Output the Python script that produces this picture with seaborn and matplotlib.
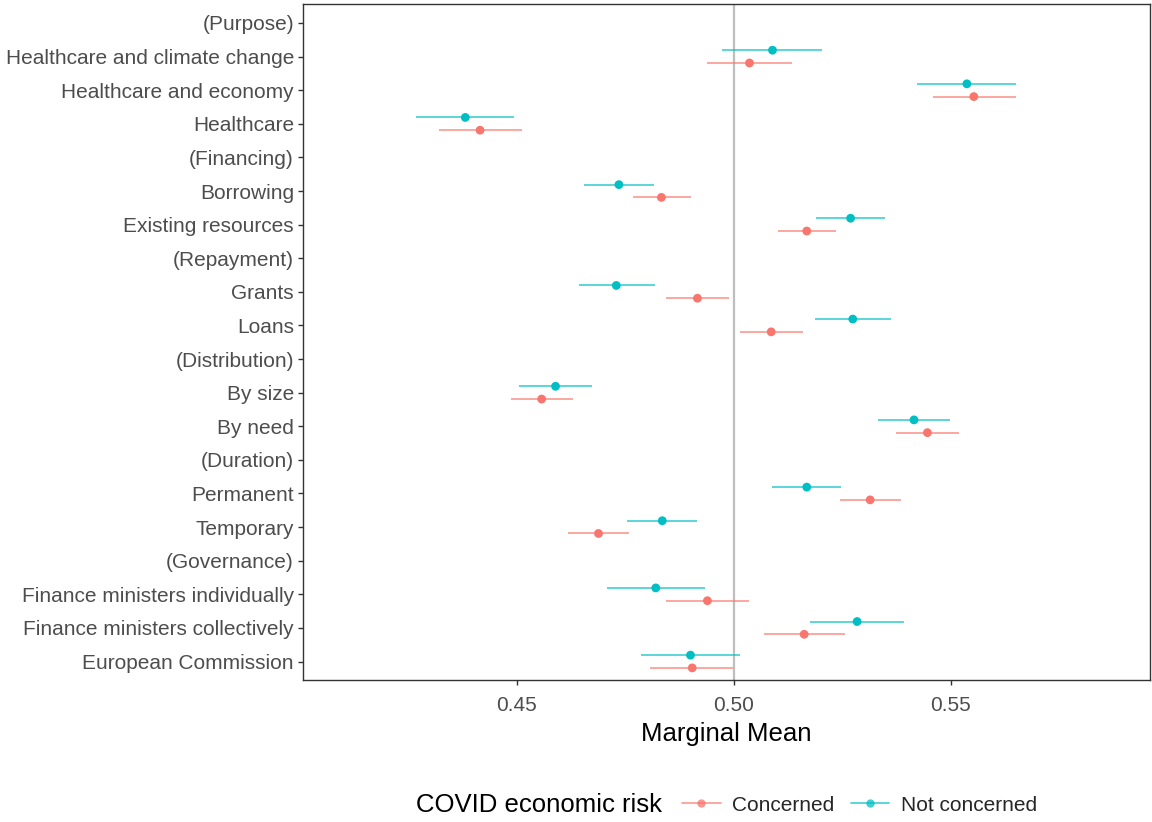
import numpy as np
import pandas as pd
import matplotlib
matplotlib.use("Agg")
import matplotlib.pyplot as plt
from matplotlib.lines import Line2D
import seaborn as sns

# Attribute levels, top to bottom; bracketed rows are attribute headers
levels = [
    "(Purpose)", "Healthcare and climate change", "Healthcare and economy", "Healthcare",
    "(Financing)", "Borrowing", "Existing resources",
    "(Repayment)", "Grants", "Loans",
    "(Distribution)", "By size", "By need",
    "(Duration)", "Permanent", "Temporary",
    "(Governance)", "Finance ministers individually", "Finance ministers collectively",
    "European Commission",
]

nan = np.nan
# Marginal means and 95% intervals: respondents concerned about COVID economic risk
concerned_est = [nan, 0.5036, 0.5553, 0.4415, nan, 0.4833, 0.5168, nan, 0.4916, 0.5086,
                 nan, 0.4557, 0.5446, nan, 0.5314, 0.4688, nan, 0.4939, 0.5162, 0.4904]
concerned_lo = [nan, 0.4939, 0.5458, 0.4320, nan, 0.4767, 0.5101, nan, 0.4843, 0.5014,
                nan, 0.4487, 0.5373, nan, 0.5244, 0.4618, nan, 0.4843, 0.5069, 0.4807]
concerned_hi = [nan, 0.5135, 0.5651, 0.4511, nan, 0.4902, 0.5235, nan, 0.4988, 0.5160,
                nan, 0.4630, 0.5519, nan, 0.5385, 0.4759, nan, 0.5034, 0.5256, 0.4998]

# Respondents not concerned
notconc_est = [nan, 0.5089, 0.5537, 0.4381, nan, 0.4735, 0.5269, nan, 0.4729, 0.5274,
               nan, 0.4589, 0.5415, nan, 0.5168, 0.4835, nan, 0.4820, 0.5284, 0.4900]
notconc_lo = [nan, 0.4973, 0.5423, 0.4268, nan, 0.4655, 0.5189, nan, 0.4642, 0.5187,
              nan, 0.4505, 0.5331, nan, 0.5088, 0.4753, nan, 0.4708, 0.5175, 0.4786]
notconc_hi = [nan, 0.5202, 0.5651, 0.4493, nan, 0.4815, 0.5348, nan, 0.4818, 0.5362,
              nan, 0.4673, 0.5499, nan, 0.5248, 0.4916, nan, 0.4933, 0.5392, 0.5013]

groups = ["Concerned", "Not concerned"]
palette = {"Concerned": "#F8766D", "Not concerned": "#00BFC4"}
dodge = {"Concerned": 0.19, "Not concerned": -0.19}

rows = []
for grp, est, lo, hi in [
    ("Concerned", concerned_est, concerned_lo, concerned_hi),
    ("Not concerned", notconc_est, notconc_lo, notconc_hi),
]:
    for i, lev in enumerate(levels):
        rows.append({"level": lev, "pos": i + dodge[grp], "group": grp,
                     "estimate": est[i], "lower": lo[i], "upper": hi[i]})
df = pd.DataFrame(rows).dropna()

sns.set_theme(style="white")
plt.rcParams["font.family"] = ["Liberation Sans", "DejaVu Sans"]

fig = plt.figure(figsize=(11.52, 8.22), dpi=100)
ax = fig.add_axes([303 / 1152, 1 - 680 / 822, (1150 - 303) / 1152, (680 - 4) / 822])

ax.axvline(0.5, color="#BEBEBE", linewidth=1.6, zorder=1)

for grp in groups:
    sub = df[df["group"] == grp]
    ax.hlines(sub["pos"], sub["lower"], sub["upper"], color=palette[grp],
              linewidth=1.2, alpha=0.75, zorder=2)

sns.scatterplot(data=df, x="estimate", y="pos", hue="group", hue_order=groups,
                palette=palette, s=40, linewidth=0, legend=False, ax=ax, zorder=3)

ax.set_xlim(0.4007, 0.5959)
ax.set_ylim(19.55, -0.565)
ax.set_yticks(range(len(levels)))
ax.set_yticklabels(levels)
ax.set_xticks([0.45, 0.50, 0.55])
ax.set_xticklabels(["0.45", "0.50", "0.55"])
ax.set_xlabel("Marginal Mean", fontsize=18.5, color="black", labelpad=5)
ax.set_ylabel("")

ax.tick_params(axis="both", which="major", length=3.5, width=1.0, color="#333333",
               labelsize=15, labelcolor="#4D4D4D", pad=3, left=True, bottom=True)
ax.tick_params(axis="x", pad=8)
for sp in ax.spines.values():
    sp.set_edgecolor("#333333")
    sp.set_linewidth(1.0)
ax.grid(False)

# Legend along the bottom with its title to the left
handles = [Line2D([0], [0], color=palette[g], linewidth=1.2, alpha=0.75,
                  marker="o", markersize=6, markerfacecolor=palette[g],
                  markeredgewidth=0) for g in groups]
ly = 1 - 805 / 822
fig.text(416 / 1152, ly, "COVID economic risk", fontsize=18.5, color="black",
         ha="left", va="center")
fig.legend(handles, groups, loc="center left", bbox_to_anchor=(682 / 1152, ly),
           ncol=2, frameon=False, fontsize=15, handlelength=1.85, handletextpad=0.55,
           columnspacing=0.8, borderpad=0, borderaxespad=0)

fig.savefig("out.png", dpi=100)
